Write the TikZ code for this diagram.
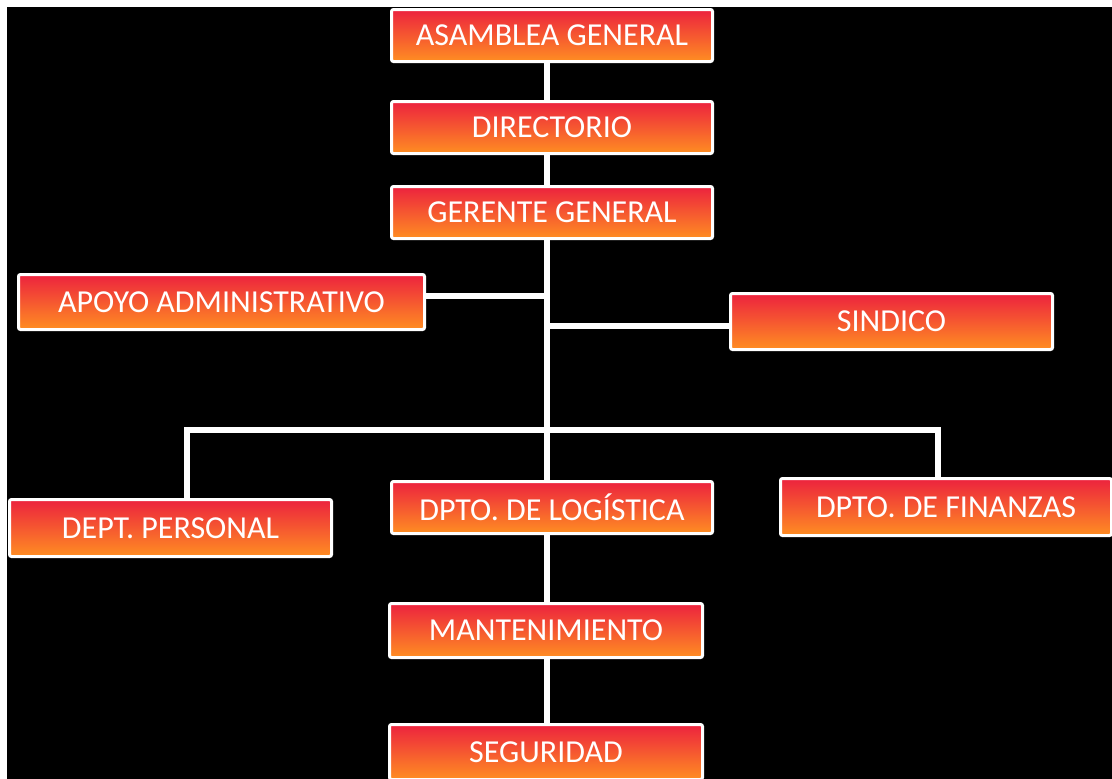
\documentclass[tikz,border=0pt]{standalone}
\usepackage{fontspec}
\setmainfont{Carlito}
\usetikzlibrary{calc}
\pgfdeclarelayer{bg}
\pgfdeclarelayer{lines}
\pgfsetlayers{bg,lines,main}
\definecolor{boxtop}{RGB}{236,34,62}
\definecolor{boxmid}{RGB}{222,50,30}
\definecolor{boxbot}{RGB}{255,142,34}
\tikzset{
  orgbox/.style={draw=white, line width=3pt, rounded corners=2pt,
    shading=axis, top color=boxtop, middle color=boxmid, bottom color=boxbot,
    text=white, font=\fontsize{32}{36}\selectfont, inner sep=0pt, anchor=center},
  link/.style={draw=white, line width=5.5pt}
}
\begin{document}
\begin{tikzpicture}[x=1pt,y=-1pt]
\useasboundingbox (0,0) rectangle (1112,779);
\begin{pgfonlayer}{bg}
\fill[white] (0,0) rectangle (1112,779);
\fill[black] (7,7) rectangle (1112,779);
\end{pgfonlayer}

\node[orgbox, minimum width=321pt, minimum height=52pt] (asam) at (552,35.5) {ASAMBLEA GENERAL};
\node[orgbox, minimum width=321pt, minimum height=52pt] (dir) at (552,127.5) {DIRECTORIO};
\node[orgbox, minimum width=321pt, minimum height=52pt] (ger) at (552,212.5) {GERENTE GENERAL};
\node[orgbox, minimum width=406pt, minimum height=55pt] (apoyo) at (221.5,302) {APOYO ADMINISTRATIVO};
\node[orgbox, minimum width=322pt, minimum height=56pt] (sind) at (891.5,321.5) {SINDICO};
\node[orgbox, minimum width=322pt, minimum height=57pt] (pers) at (170.5,528) {DEPT. PERSONAL};
\node[orgbox, minimum width=321pt, minimum height=52pt] (log) at (552,507.5) {DPTO. DE LOGÍSTICA};
\node[orgbox, minimum width=331pt, minimum height=57pt] (fin) at (946,507) {DPTO. DE FINANZAS};
\node[orgbox, minimum width=313pt, minimum height=54pt] (mant) at (546,630.5) {MANTENIMIENTO};
\node[orgbox, minimum width=313pt, minimum height=55pt] (seg) at (546,752) {SEGURIDAD};

\coordinate (t) at (547,0);
\coordinate (ap) at (547,296);
\coordinate (sc) at (547,326);
\coordinate (busL) at (187,430);
\coordinate (busR) at (938,430);

\begin{pgfonlayer}{lines}
\draw[link] (asam.south -| t) -- (dir.north -| t);
\draw[link] (dir.south -| t) -- (ger.north -| t);
\draw[link] (ger.south -| t) -- (log.north -| t);
\draw[link] (apoyo.east |- ap) -- (ap);
\draw[link] (sc) -- (sind.west |- sc);
\draw[link] (pers.north -| busL) -- (busL) -- (busR) -- (fin.north -| busR);
\draw[link] (log.south -| t) -- (mant.north -| t);
\draw[link] (mant.south -| t) -- (seg.north -| t);
\end{pgfonlayer}
\end{tikzpicture}
\end{document}
